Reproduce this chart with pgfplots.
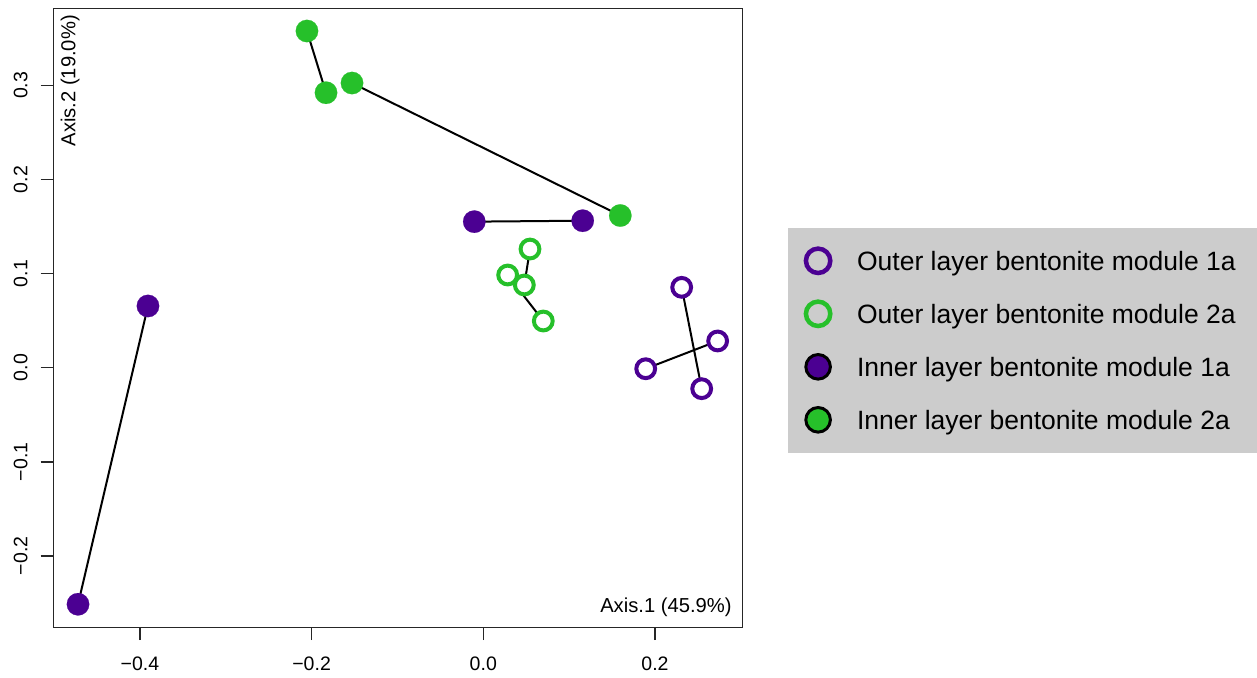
\documentclass[border=0pt]{standalone}
\usepackage{fontspec}
\setmainfont{Liberation Sans}
\usepackage{pgfplots}
\pgfplotsset{compat=1.18}
\definecolor{mpurple}{HTML}{4B0092}
\definecolor{mgreen}{HTML}{26C02A}
\definecolor{lgray}{HTML}{CCCCCC}
\begin{document}
\begin{tikzpicture}
\useasboundingbox (-26.65pt,-24.85pt) rectangle (601.85pt,313.65pt);
\begin{axis}[
  at={(0,0)}, anchor=south west,
  scale only axis, width=344.7pt, height=309.3pt,
  xmin=-0.5009, xmax=0.3022, ymin=-0.2759, ymax=0.3815,
  axis line style={black!85, line width=0.75pt},
  xtick={-0.4,-0.2,0,0.2}, xticklabels={−0.4,−0.2,0.0,0.2},
  ytick={-0.2,-0.1,0,0.1,0.2,0.3}, yticklabels={−0.2,−0.1,0.0,0.1,0.2,0.3},
  xtick pos=bottom, ytick pos=left, tick align=outside,
  major tick length=6.35pt,
  tick style={black!85, line width=0.75pt},
  ticklabel style={font=\fontsize{9.75}{11}\selectfont},
  xticklabel style={anchor=north, inner sep=0pt},
  yticklabel style={rotate=90, anchor=south, inner sep=0pt},
  xticklabel shift=8pt, yticklabel shift=6.3pt,
  legend cell align=left,
  legend style={at={(1.0647,0.6466)}, anchor=north west, fill=lgray, draw=none,
    inner xsep=0pt, inner ysep=3.3pt, column sep=0.85pt, row sep=0pt,
    font=\fontsize{13.25}{15}\selectfont,
    nodes={inner xsep=11.15pt, inner ysep=0pt, text depth=0pt}},
]
% connecting lines
\addplot[black, line width=1pt, forget plot] coordinates {(-0.4721,-0.2514) (-0.3906,0.0656)};
\addplot[black, line width=1pt, forget plot] coordinates {(-0.0105,0.1552) (0.1158,0.1562)};
\addplot[black, line width=1pt, forget plot] coordinates {(-0.2054,0.3578) (-0.1832,0.2922)};
\addplot[black, line width=1pt, forget plot] coordinates {(-0.1529,0.3025) (0.1596,0.1617)};
\addplot[black, line width=1pt, forget plot] coordinates {(0.0544,0.1261) (0.0478,0.0879)};
\addplot[black, line width=1pt, forget plot] coordinates {(0.0284,0.0985) (0.0699,0.0496)};
\addplot[black, line width=1pt, forget plot] coordinates {(0.2311,0.0854) (0.2544,-0.0223)};
\addplot[black, line width=1pt, forget plot] coordinates {(0.1892,-0.0011) (0.2730,0.0284)};
% Outer 1a
\addplot[only marks, color=mpurple, mark=*, mark size=4.7pt, mark options={draw=mpurple, fill=white, line width=2pt},
  legend image code/.code={\path[draw=none, fill=none] (-15.2pt,-13.25pt) rectangle (7.5pt,13.25pt);
    \draw plot[only marks, mark=*, mark size=6.1pt, mark options={draw=mpurple, fill=lgray, line width=2.25pt}] coordinates {(0pt,0pt)};}]
  coordinates {(0.2311,0.0854) (0.2730,0.0284) (0.1892,-0.0011) (0.2544,-0.0223)};
\addlegendentry{Outer layer bentonite module 1a}
% Outer 2a
\addplot[only marks, color=mgreen, mark=*, mark size=4.7pt, mark options={draw=mgreen, fill=white, line width=2pt},
  legend image code/.code={\path[draw=none, fill=none] (-15.2pt,-13.25pt) rectangle (7.5pt,13.25pt);
    \draw plot[only marks, mark=*, mark size=6.1pt, mark options={draw=mgreen, fill=lgray, line width=2.25pt}] coordinates {(0pt,0pt)};}]
  coordinates {(0.0544,0.1261) (0.0284,0.0985) (0.0478,0.0879) (0.0699,0.0496)};
\addlegendentry{Outer layer bentonite module 2a}
% Inner 1a
\addplot[only marks, color=mpurple, mark=*, mark size=5.6pt, mark options={draw=mpurple, fill=mpurple, line width=0.1pt},
  legend image code/.code={\path[draw=none, fill=none] (-15.2pt,-13.25pt) rectangle (7.5pt,13.25pt);
    \draw plot[only marks, mark=*, mark size=6.15pt, mark options={draw=black, fill=mpurple, line width=1.5pt}] coordinates {(0pt,0pt)};}]
  coordinates {(-0.4721,-0.2514) (-0.3906,0.0656) (-0.0105,0.1552) (0.1158,0.1562)};
\addlegendentry{Inner layer bentonite module 1a}
% Inner 2a
\addplot[only marks, color=mgreen, mark=*, mark size=5.6pt, mark options={draw=mgreen, fill=mgreen, line width=0.1pt},
  legend image code/.code={\path[draw=none, fill=none] (-15.2pt,-13.25pt) rectangle (7.5pt,13.25pt);
    \draw plot[only marks, mark=*, mark size=6.15pt, mark options={draw=black, fill=mgreen, line width=1.5pt}] coordinates {(0pt,0pt)};}]
  coordinates {(-0.2054,0.3578) (-0.1832,0.2922) (-0.1529,0.3025) (0.1596,0.1617)};
\addlegendentry{Inner layer bentonite module 2a}
\node[anchor=south east, inner xsep=5.35pt, inner ysep=5pt, font=\fontsize{10.1}{12}\selectfont] at (rel axis cs:1,0) {Axis.1 (45.9\%)};
\node[rotate=90, anchor=north east, inner xsep=3pt, inner ysep=3.5pt, font=\fontsize{10.1}{12}\selectfont] at (rel axis cs:0,1) {Axis.2 (19.0\%)};
\end{axis}
\end{tikzpicture}
\end{document}
